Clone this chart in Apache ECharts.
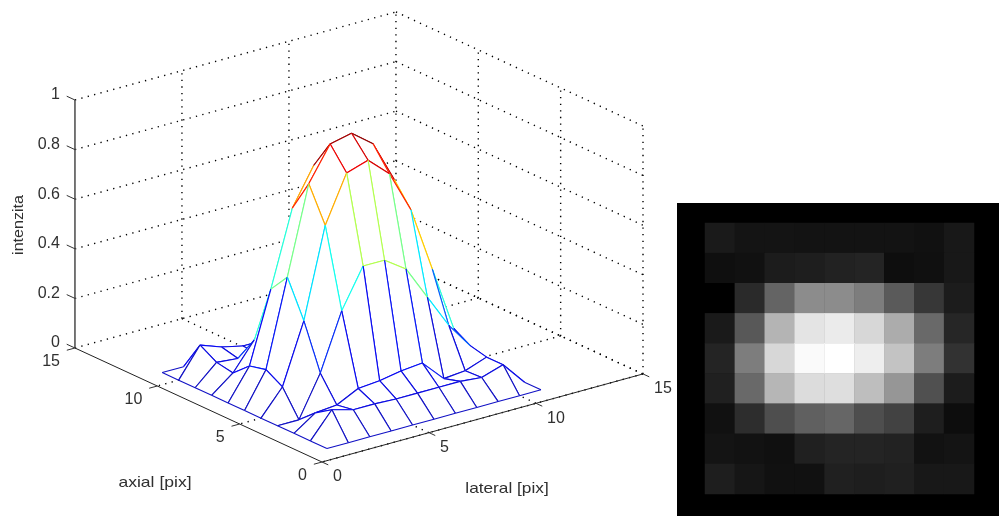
<!DOCTYPE html>
<html>
<head>
<meta charset="utf-8">
<style>html,body{margin:0;padding:0;background:#fff}#c{width:999px;height:516px}</style>
<script src="https://cdn.jsdelivr.net/npm/echarts@6/dist/echarts.min.js"></script>
</head>
<body>
<div id="c"></div>
<script>
const grayLevels = [
  [0,0,0,0,0,0,0,0,0,0,0],
  [0,26,20,20,19,19,19,19,17,24,0],
  [0,15,17,28,30,34,36,14,16,24,0],
  [0,0,42,100,140,140,125,90,55,28,0],
  [0,26,88,180,228,235,215,172,105,38,0],
  [0,36,125,215,250,255,238,195,125,50,0],
  [0,32,105,182,220,222,190,150,80,28,0],
  [0,17,45,78,96,102,78,66,30,13,0],
  [0,20,18,16,32,36,36,34,18,20,0],
  [0,30,22,17,17,32,30,32,24,24,0],
  [0,0,0,0,0,0,0,0,0,0,0]
];
const lateralValues = [1,2,3,4,5,6,7,8,9,10,11];
const axialValues = [1,2,3,4,5,6,7,8,9,10,11];
const lateralTicks = [0,5,10,15];
const axialTicks = [0,5,10,15];
const intensityTicks = [0,0.2,0.4,0.6,0.8,1];
const FONT = '"Liberation Sans", Arial, sans-serif';
const TEXT = '#303030';

// Orthographic 3-D view: projects (lateral, axial, intensity) on the plane of a hidden grid.
const VIEW = {latX:21.4, axX:-16.47, latY:5.87, axY:7.6, zY:248};
const project = (lat, ax, z) => [lat*VIEW.latX + ax*VIEW.axX, lat*VIEW.latY + ax*VIEW.axY + z*VIEW.zY];
const latMax = lateralTicks[lateralTicks.length-1], axMax = axialTicks[axialTicks.length-1], zMax = 1;
const height = (r, c) => grayLevels[r][c] / 255;

const jet = ['#1010c4','#0808f4','#0080ff','#00ffff','#80ff80','#ffff00','#ff8000','#ff0000','#900000'];
const jetColor = z => echarts.color.lerp(Math.min(1, Math.max(0, z)), jet);

// dotted box grid
const gridSegs = [];
intensityTicks.forEach(z => {
  gridSegs.push([[0,axMax,z],[latMax,axMax,z]]);
  gridSegs.push([[latMax,axMax,z],[latMax,0,z]]);
});
lateralTicks.slice(1).forEach(l => {
  gridSegs.push([[l,axMax,0],[l,axMax,zMax]]);
  gridSegs.push([[l,axMax,0],[l,0,0]]);
});
axialTicks.slice(0,-1).forEach(a => {
  gridSegs.push([[latMax,a,0],[latMax,a,zMax]]);
  gridSegs.push([[latMax,a,0],[0,a,0]]);
});

// solid axes and ticks
const axisSegs = [
  {a:[0,axMax,0], b:[0,axMax,zMax], color:'#555555', w:1.6},
  {a:[0,axMax,0], b:[0,0,0], color:'#222222', w:1},
  {a:[0,0,0], b:[latMax,0,0], color:'#222222', w:1}
];
intensityTicks.forEach(z => axisSegs.push({a:[0,axMax,z], b:[0,axMax+0.5,z], color:'#333333', w:1}));
axialTicks.forEach(a => axisSegs.push({a:[0,a,0], b:[-0.38,a,0], color:'#333333', w:1}));
lateralTicks.forEach(l => axisSegs.push({a:[l,0,0], b:[l,-0.38,0], color:'#333333', w:1}));

// tick labels, anchored at the projected tick
const tickTexts = [];
intensityTicks.forEach(z => tickTexts.push({p:[0,axMax,z], text:String(z), dx:-15, dy:-5, align:'right'}));
axialTicks.forEach(a => tickTexts.push({p:[0,a,0], text:String(a), dx:-15, dy:13.5, align:'right'}));
lateralTicks.forEach(l => tickTexts.push({p:[l,0,0], text:String(l), dx:11, dy:15, align:'left'}));

// mesh quads, back to front
const quads = [];
for (let r = axialValues.length-2; r >= 0; r--) {
  for (let c = lateralValues.length-2; c >= 0; c--) quads.push([r,c]);
}

const heatData = [];
for (let r = 1; r < 10; r++) for (let c = 1; c < 10; c++) heatData.push([c-1, r-1, grayLevels[r][c]]);
const heatCats = grayLevels.slice(1,10).map((_, i) => String(i+1));

const titleStyle = text => ({text, fontSize:15, fontFamily:FONT, fill:TEXT, align:'center', verticalAlign:'middle'});

const option = {
  animation: false,
  backgroundColor: '#ffffff',
  grid: [
    {left:75, top:13, width:568, height:449, show:false},
    {left:677, top:203, width:322, height:313, show:true, backgroundColor:'#000000', borderWidth:0},
    {left:705, top:223, width:269, height:271, show:false}
  ],
  xAxis: [
    {type:'value', gridIndex:0, min:-247, max:321, show:false},
    {type:'value', gridIndex:1, min:0, max:1, show:false},
    {type:'category', gridIndex:2, data:heatCats, show:false}
  ],
  yAxis: [
    {type:'value', gridIndex:0, min:0, max:449, show:false},
    {type:'value', gridIndex:1, min:0, max:1, show:false},
    {type:'category', gridIndex:2, data:heatCats, inverse:true, show:false}
  ],
  visualMap: {show:false, seriesIndex:3, min:0, max:255, dimension:2, inRange:{color:['#000000','#ffffff']}},
  graphic: [
    {type:'text', x:19, y:225, rotation:Math.PI/2, scaleX:1.07, style:titleStyle('intenzita')},
    {type:'text', x:155, y:483, scaleX:1.17, style:titleStyle('axial [pix]')},
    {type:'text', x:507, y:489, scaleX:1.15, style:titleStyle('lateral [pix]')}
  ],
  series: [
    {
      type:'custom', coordinateSystem:'cartesian2d', xAxisIndex:0, yAxisIndex:0, clip:false, silent:true, z:1,
      data: gridSegs.map(s => project(...s[0])),
      renderItem: (params, api) => {
        const s = gridSegs[params.dataIndex];
        const a = api.coord(project(...s[0])), b = api.coord(project(...s[1]));
        return {type:'line', shape:{x1:a[0],y1:a[1],x2:b[0],y2:b[1]},
          style:{stroke:'#000000', lineWidth:1.4, lineDash:[1.3,5.3]}};
      }
    },
    {
      type:'custom', coordinateSystem:'cartesian2d', xAxisIndex:0, yAxisIndex:0, clip:false, silent:true, z:2,
      data: quads.map(q => project(lateralValues[q[1]], axialValues[q[0]], height(q[0],q[1]))),
      renderItem: (params, api) => {
        const [r,c] = quads[params.dataIndex];
        const P = (rr,cc) => api.coord(project(lateralValues[cc], axialValues[rr], height(rr,cc)));
        const p00 = P(r,c), p01 = P(r,c+1), p11 = P(r+1,c+1), p10 = P(r+1,c);
        const edge = (a,b,z) => ({type:'line', shape:{x1:a[0],y1:a[1],x2:b[0],y2:b[1]},
          style:{stroke:jetColor(z), lineWidth:1.1, fill:null}});
        return {type:'group', children:[
          {type:'polygon', shape:{points:[p00,p01,p11,p10]}, style:{fill:'#ffffff', stroke:null}},
          edge(p10,p11,height(r+1,c)),
          edge(p01,p11,height(r,c+1)),
          edge(p00,p01,height(r,c)),
          edge(p00,p10,height(r,c))
        ]};
      }
    },
    {
      type:'custom', coordinateSystem:'cartesian2d', xAxisIndex:0, yAxisIndex:0, clip:false, silent:true, z:3,
      data: axisSegs.map(s => project(...s.a)).concat(tickTexts.map(t => project(...t.p))),
      renderItem: (params, api) => {
        const i = params.dataIndex;
        if (i < axisSegs.length) {
          const s = axisSegs[i];
          const a = api.coord(project(...s.a)), b = api.coord(project(...s.b));
          return {type:'line', shape:{x1:a[0],y1:a[1],x2:b[0],y2:b[1]}, style:{stroke:s.color, lineWidth:s.w}};
        }
        const t = tickTexts[i - axisSegs.length];
        const a = api.coord(project(...t.p));
        return {type:'text', style:{text:t.text, x:a[0]+t.dx, y:a[1]+t.dy, align:t.align, verticalAlign:'middle',
          fontSize:16, fontFamily:FONT, fill:TEXT}};
      }
    },
    {
      type:'heatmap', xAxisIndex:2, yAxisIndex:2, data:heatData, silent:true, z:4,
      itemStyle:{borderWidth:0}, emphasis:{disabled:true}, progressive:0
    }
  ]
};
const chart = echarts.init(document.getElementById('c'), null, {renderer:'canvas'});
chart.setOption(option);
</script>
</body>
</html>
